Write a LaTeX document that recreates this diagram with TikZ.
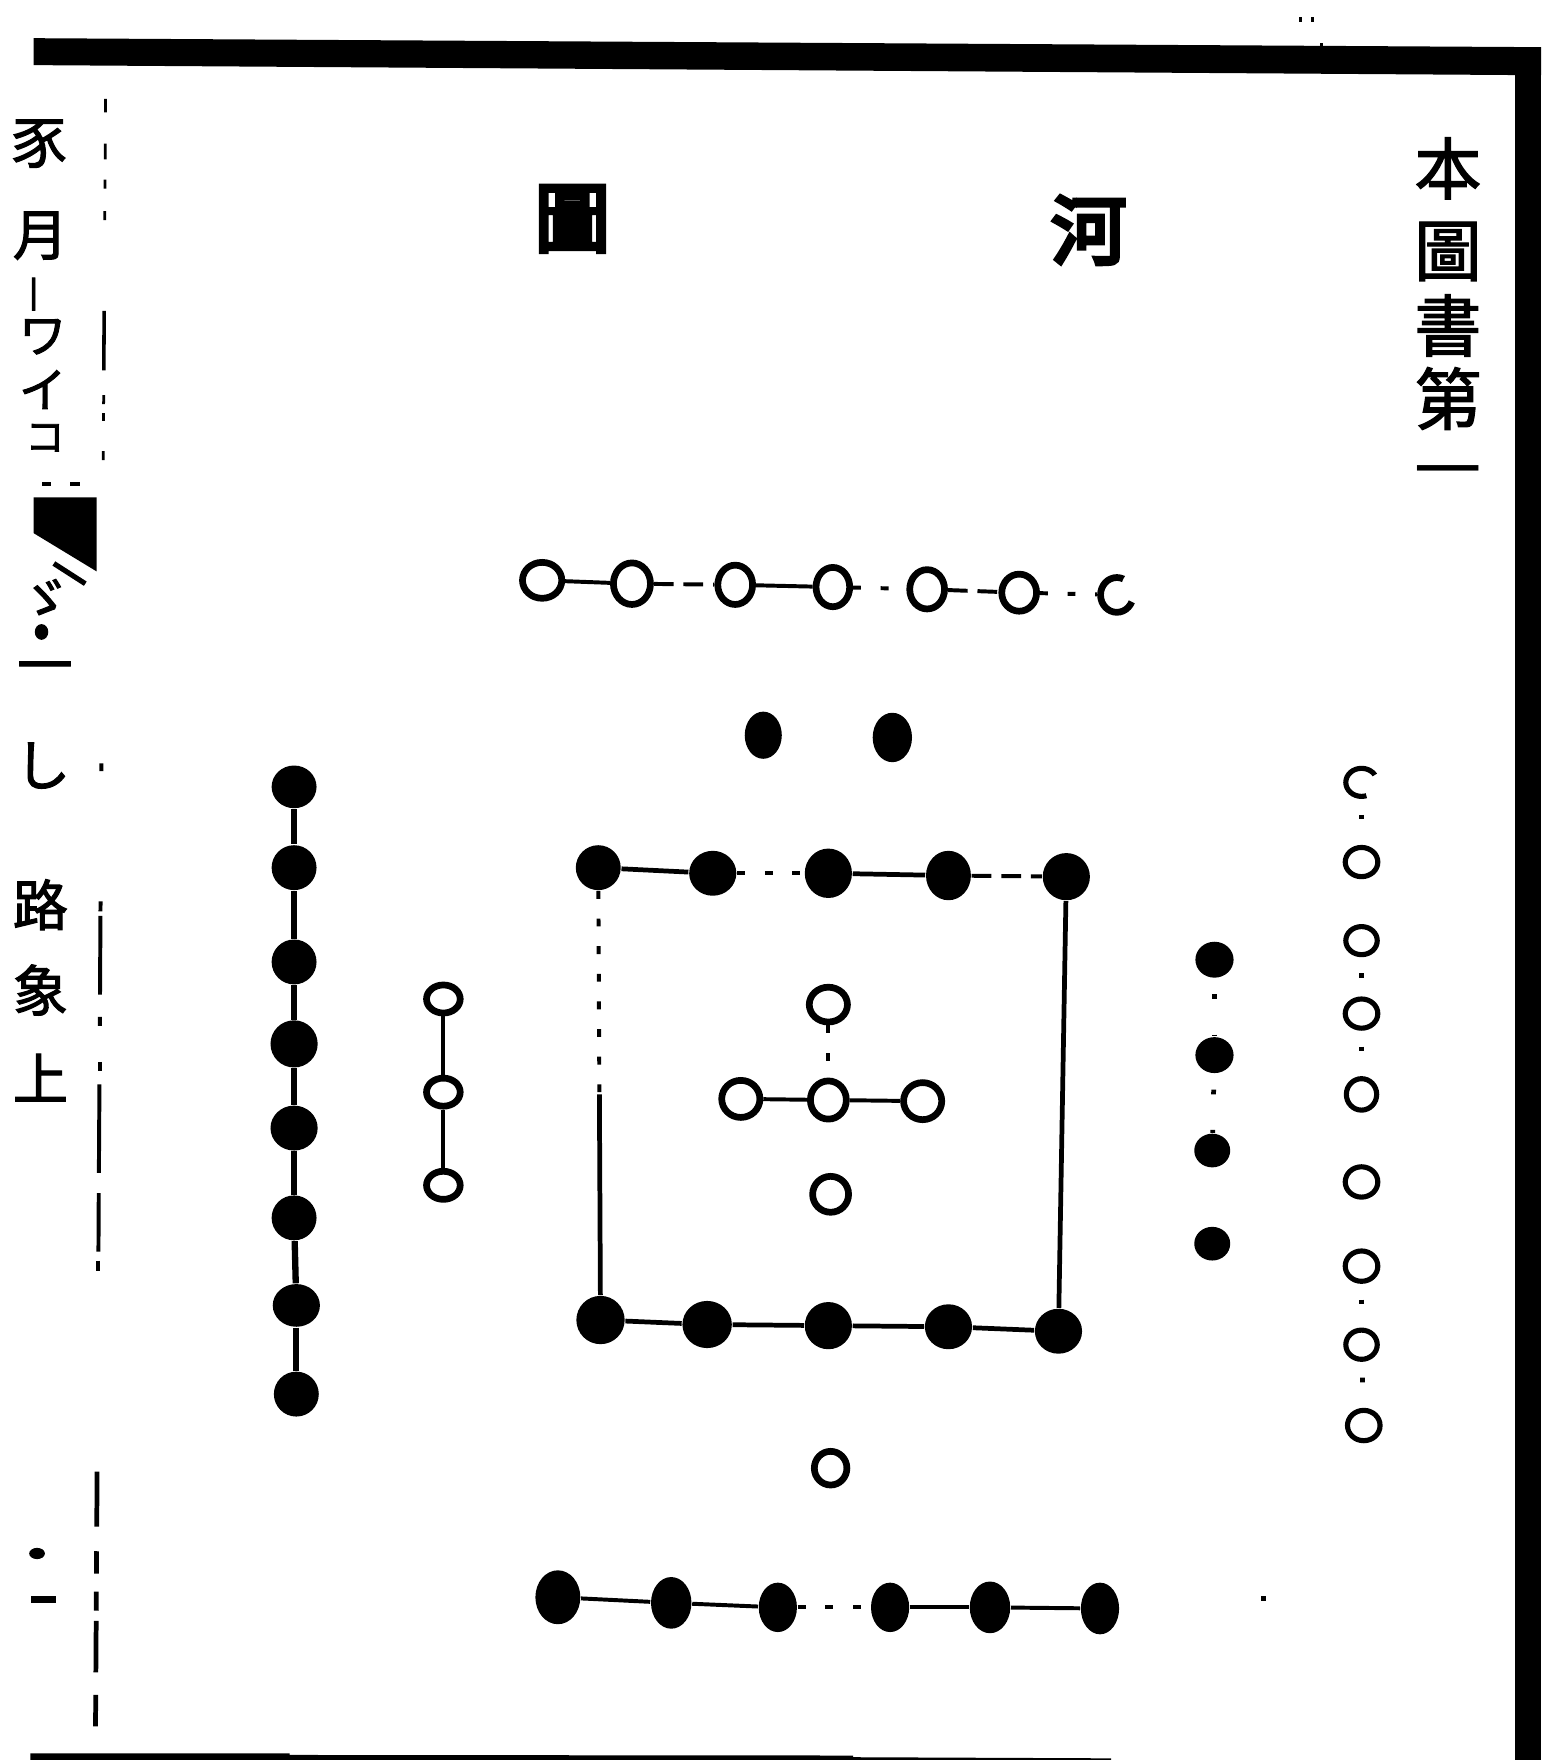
\documentclass[tikz,border=0pt]{standalone}
\usepackage{fontspec}
\newfontfamily\cjk[FakeBold=2]{Noto Sans CJK TC}
\newfontfamily\cjkl{Noto Sans CJK TC}
\newfontfamily\cjkh[FakeBold=6]{Noto Sans CJK TC}
\usetikzlibrary{shapes.geometric}
\tikzset{
  od/.style={ellipse, draw=black, line width=1.7pt, fill=white, inner sep=0pt},
  odt/.style={ellipse, draw=black, line width=1.3pt, fill=white, inner sep=0pt},
  bd/.style={ellipse, fill=black, draw=none, inner sep=0pt},
  sz/.style 2 args={minimum width=#1, minimum height=#2},
  ln/.style={line width=1.0pt},
  sq/.style={line width=1.2pt},
  thick chain/.style={line width=1.6pt},
  brk/.style={line width=1.0pt, dash pattern=on 5pt off 2.5pt},
  sparse/.style={line width=1.0pt, dash pattern=on 2pt off 5pt},
  fewdots/.style={line width=1.2pt, dash pattern=on 1.2pt off 9pt, dash phase=-4pt},
  rule/.style={line width=1.0pt},
  lcol/.style={font=\cjk\fontsize{14}{14}\selectfont, inner sep=0pt},
  rcol/.style={font=\cjk\fontsize{17}{17}\selectfont, inner sep=0pt},
  ttl/.style={font=\cjkh\fontsize{19}{19}\selectfont, inner sep=0pt},
}
\begin{document}
\begin{tikzpicture}[x=0.01cm,y=-0.01cm]
\useasboundingbox (0,0) rectangle (1373,1568);
\fill[white] (0,0) rectangle (1373,1568);

% frame of the page
\fill (30,34) -- (1373,42) -- (1373,67) -- (30,58) -- cycle;
\fill (1350,42) rectangle (1373,1568);
\fill (27,1562) -- (258,1562) -- (258,1563.5) -- (760,1564) -- (760,1565.5) -- (990,1566.5) -- (990,1568) -- (27,1568) -- cycle;
% specks above the frame
\fill (1157,15) rectangle (1160,20);
\fill (1168,15) rectangle (1171,20);
\fill (1176,38) rectangle (1179,42);

% left column rule (broken)
\draw[rule, line width=0.7pt] (94,88) -- (93.9,100);
\draw[rule, line width=0.7pt] (93.8,128) -- (93.7,142);
\draw[rule, line width=0.7pt] (93.6,160) -- (93.5,168);
\draw[rule, line width=0.7pt] (93.4,188) -- (93.3,196);
\draw[rule, line width=0.9pt] (92.8,277) -- (92.5,330);
\draw[rule, line width=0.7pt] (92.4,352) -- (92.3,360);
\draw[rule, line width=0.7pt] (92.3,368) -- (92.2,375);
\draw[rule, line width=0.7pt] (92.1,402) -- (92.0,410);
\draw[rule] (90.4,680) -- (90.3,687);
\draw[rule] (89.6,803) -- (89.5,812);
\draw[rule] (89.5,816) -- (89.1,886);
\draw[rule] (89.0,906) -- (88.9,914);
\draw[rule] (88.7,946) -- (88.7,954);
\draw[rule] (88.6,966) -- (88.1,1045);
\draw[rule] (88.0,1063) -- (87.7,1115);
\draw[rule] (87.6,1123) -- (87.6,1132);
\draw[rule, line width=1.2pt] (86.5,1311) -- (86.2,1360);
\draw[rule, line width=1.2pt] (86.0,1382) -- (85.9,1402);
\draw[rule, line width=1.2pt] (85.8,1418) -- (85.7,1435);
\draw[rule, line width=1.2pt] (85.7,1444) -- (85.4,1490);
\draw[rule, line width=1.2pt] (85.3,1510) -- (85.1,1538);

% left column text (margin)
\node[lcol] (m1) at (35,128) {豕};
\node[lcol] (m2) at (36,210) {月};
\node[lcol, font=\cjk\fontsize{9}{9}\selectfont] (m3) at (30,262) {丨};
\node[lcol, font=\cjk\fontsize{12}{12}\selectfont] (m4) at (38,300) {ワ};
\node[lcol, font=\cjk\fontsize{12}{12}\selectfont] (m5) at (38,347) {イ};
\node[lcol, font=\cjk\fontsize{10}{10}\selectfont] (m6) at (40,390) {コ};
\fill (37,429) rectangle (45,433);
\fill (62,429) rectangle (71,433);
\fill (30,443) -- (86,443) -- (86,509) -- (30,475) -- cycle;
\draw[line width=1.3pt] (48,502) -- (76,520);
\node[lcol, font=\cjk\fontsize{13}{13}\selectfont] (m7) at (40,533) {ゞ};
\fill (37,563) ellipse (0.06cm and 0.07cm);
\node[lcol] (m8) at (40,600) {一};
\node[lcol] (m9) at (38,682) {し};
\node[lcol] (m10) at (36,806) {路};
\node[lcol] (m11) at (36,882) {象};
\node[lcol] (m12) at (36,960) {上};
\fill (33,1384) ellipse (0.07cm and 0.05cm);
\fill (28,1422) rectangle (50,1428);

% right column text
\node[rcol] (r1) at (1290,150) {本};
\node[rcol] (r2) at (1290,224) {圖};
\node[rcol] (r3) at (1290,290) {書};
\node[rcol] (r4) at (1290,355) {第};
\node[rcol, font=\cjkl\fontsize{17}{17}\selectfont] (r5) at (1290,428) {一};

% title
\node[ttl] (h1) at (970,205) {河};
\node[ttl] (h2) at (510,195) {圖};

% top row: seven open
\node[od, sz={0.35cm}{0.32cm}] (t1) at (483,517) {};
\node[od, sz={0.33cm}{0.37cm}] (t2) at (563,520) {};
\node[od, sz={0.31cm}{0.35cm}] (t3) at (655,521) {};
\node[od, sz={0.30cm}{0.35cm}] (t4) at (742,523) {};
\node[od, sz={0.31cm}{0.35cm}] (t5) at (826,525) {};
\node[od, sz={0.31cm}{0.33cm}] (t6) at (908,528) {};
\node[od, sz={0.29cm}{0.31cm}, dash pattern=on 20pt off 5pt, dash phase=20pt] (t7) at (995,530) {};

% two black
\node[bd, sz={0.33cm}{0.42cm}] (b1) at (680,655) {};
\node[bd, sz={0.35cm}{0.44cm}] (b2) at (795,657) {};

% square of ten black
\node[bd, sz={0.40cm}{0.40cm}] (s1) at (533,773) {};
\node[bd, sz={0.42cm}{0.40cm}] (s2) at (635,778) {};
\node[bd, sz={0.42cm}{0.44cm}] (s3) at (738,778) {};
\node[bd, sz={0.40cm}{0.44cm}] (s4) at (845,780) {};
\node[bd, sz={0.42cm}{0.42cm}] (s5) at (950,781) {};
\node[bd, sz={0.43cm}{0.43cm}] (q1) at (535,1176) {};
\node[bd, sz={0.44cm}{0.42cm}] (q2) at (630,1180) {};
\node[bd, sz={0.42cm}{0.42cm}] (q3) at (738,1181) {};
\node[bd, sz={0.42cm}{0.40cm}] (q4) at (845,1182) {};
\node[bd, sz={0.42cm}{0.40cm}] (q5) at (943,1186) {};
\coordinate (lm) at (534,975);

% centre five open
\node[od, sz={0.34cm}{0.31cm}] (c1) at (738,895) {};
\node[od, sz={0.34cm}{0.33cm}] (c2) at (660,979) {};
\node[od, sz={0.32cm}{0.34cm}] (c3) at (738,980) {};
\node[od, sz={0.34cm}{0.33cm}] (c4) at (822,981) {};
\node[od, sz={0.32cm}{0.32cm}] (c5) at (740,1064) {};

% left inner three open
\node[od, sz={0.30cm}{0.25cm}] (li1) at (395,890) {};
\node[od, sz={0.30cm}{0.25cm}] (li2) at (395,973) {};
\node[od, sz={0.30cm}{0.25cm}] (li3) at (395,1056) {};

% left outer eight black
\node[bd, sz={0.40cm}{0.38cm}] (lo1) at (262,701) {};
\node[bd, sz={0.40cm}{0.40cm}] (lo2) at (262,773) {};
\node[bd, sz={0.40cm}{0.40cm}] (lo3) at (262,857) {};
\node[bd, sz={0.42cm}{0.42cm}] (lo4) at (262,930) {};
\node[bd, sz={0.42cm}{0.40cm}] (lo5) at (262,1005) {};
\node[bd, sz={0.40cm}{0.40cm}] (lo6) at (262,1085) {};
\node[bd, sz={0.42cm}{0.38cm}] (lo7) at (264,1163) {};
\node[bd, sz={0.40cm}{0.40cm}] (lo8) at (264,1242) {};

% right inner four black
\node[bd, sz={0.34cm}{0.32cm}] (rb1) at (1082,855) {};
\node[bd, sz={0.34cm}{0.32cm}] (rb2) at (1082,940) {};
\node[bd, sz={0.32cm}{0.30cm}] (rb3) at (1080,1025) {};
\node[bd, sz={0.32cm}{0.30cm}] (rb4) at (1080,1108) {};

% right outer nine open
\node[odt, sz={0.28cm}{0.25cm}, dash pattern=on 17pt off 5pt, dash phase=20pt] (ro1) at (1213,697) {};
\node[odt, sz={0.29cm}{0.26cm}] (ro2) at (1213,768) {};
\node[odt, sz={0.28cm}{0.25cm}] (ro3) at (1213,838) {};
\node[odt, sz={0.29cm}{0.26cm}] (ro4) at (1213,903) {};
\node[odt, sz={0.27cm}{0.28cm}] (ro5) at (1213,975) {};
\node[odt, sz={0.29cm}{0.27cm}] (ro6) at (1213,1053) {};
\node[odt, sz={0.29cm}{0.27cm}] (ro7) at (1213,1128) {};
\node[odt, sz={0.28cm}{0.26cm}] (ro8) at (1213,1198) {};
\node[odt, sz={0.29cm}{0.27cm}] (ro9) at (1215,1270) {};

% bottom single open
\node[od, sz={0.29cm}{0.30cm}] (bo) at (740,1308) {};

% bottom six black
\node[bd, sz={0.40cm}{0.48cm}] (bb1) at (497,1423) {};
\node[bd, sz={0.36cm}{0.46cm}] (bb2) at (598,1428) {};
\node[bd, sz={0.34cm}{0.44cm}] (bb3) at (693,1432) {};
\node[bd, sz={0.34cm}{0.44cm}] (bb4) at (793,1432) {};
\node[bd, sz={0.36cm}{0.46cm}] (bb5) at (882,1432) {};
\node[bd, sz={0.34cm}{0.46cm}] (bb6) at (980,1433) {};
\fill (1123,1422) rectangle (1128,1426);

% connectors
\draw[ln] (t1) -- (t2);
\draw[brk] (t2) -- (t3);
\draw[ln] (t3) -- (t4);
\draw[sparse] (t4) -- (t5);
\draw[brk] (t5) -- (t6);
\draw[sparse] (t6) -- (t7);

\draw[sq] (s1) -- (s2);
\draw[sparse] (s2) -- (s3);
\draw[sq] (s3) -- (s4);
\draw[brk] (s4) -- (s5);
\draw[sparse] (s1) -- (lm);
\draw[sq] (lm) -- (q1);
\draw[sq] (s5) -- (q5);
\draw[sq] (q1) -- (q2);
\draw[sq] (q2) -- (q3);
\draw[sq] (q3) -- (q4);
\draw[sq] (q4) -- (q5);

\draw[sparse] (c1) -- (c3);
\draw[ln] (c2) -- (c3);
\draw[ln] (c3) -- (c4);

\draw[ln] (li1) -- (li2);
\draw[ln] (li2) -- (li3);

\draw[thick chain] (lo1) -- (lo2);
\draw[thick chain] (lo2) -- (lo3);
\draw[thick chain] (lo3) -- (lo4);
\draw[thick chain] (lo4) -- (lo5);
\draw[thick chain] (lo5) -- (lo6);
\draw[thick chain] (lo6) -- (lo7);
\draw[thick chain] (lo7) -- (lo8);

\draw[fewdots] (rb1) -- (rb2);
\draw[fewdots] (rb2) -- (rb3);

\draw[fewdots] (ro1) -- (ro2);
\draw[fewdots] (ro3) -- (ro4);
\draw[fewdots] (ro4) -- (ro5);
\draw[fewdots] (ro7) -- (ro8);
\draw[fewdots] (ro8) -- (ro9);

\draw[ln] (bb1) -- (bb2);
\draw[ln] (bb2) -- (bb3);
\draw[sparse] (bb3) -- (bb4);
\draw[ln] (bb4) -- (bb5);
\draw[ln] (bb5) -- (bb6);
\end{tikzpicture}
\end{document}
